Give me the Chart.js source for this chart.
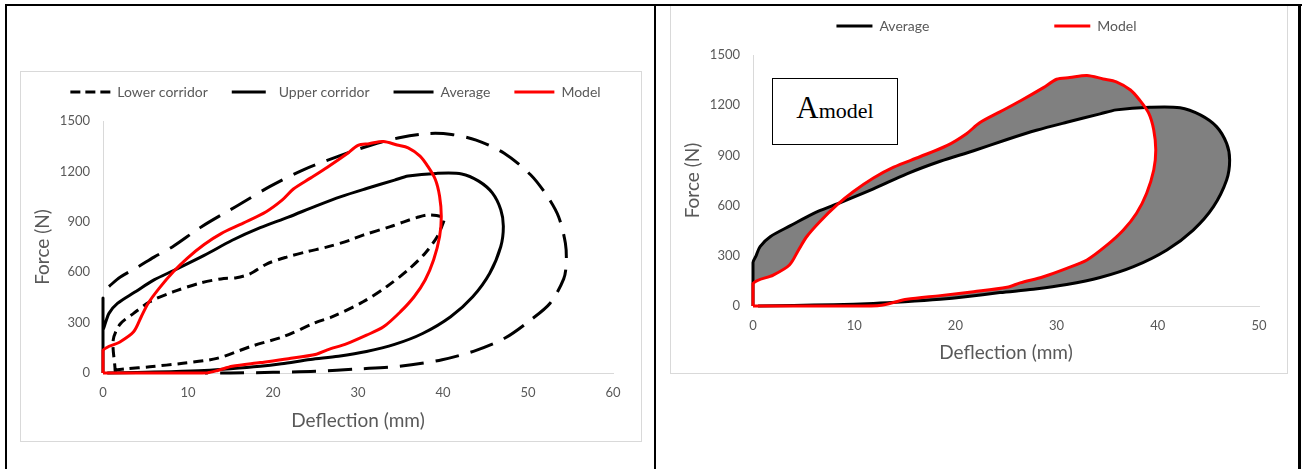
<!DOCTYPE html>
<html>
<head>
<meta charset="utf-8">
<script src="https://cdn.jsdelivr.net/npm/chart.js@4.4.1/dist/chart.umd.min.js"></script>
<style>
  html, body { margin: 0; padding: 0; background: #fff; }
  body { width: 1305px; height: 469px; position: relative; overflow: hidden; font-family: Lato, sans-serif; }
  .rule { position: absolute; background: #000; z-index: 5; }
  .frame { position: absolute; border: 1px solid #d9d9d9; }
  .frame canvas { display: block; }
  #areaLabel {
    position: absolute; left: 772px; top: 78px; width: 124px; height: 51px;
    padding-top: 14px; border: 1px solid #000; background: #fff; z-index: 3;
    font-family: "Liberation Serif", "Times New Roman", serif; color: #000;
    text-align: center; line-height: 30px; white-space: nowrap;
  }
  #areaLabel .big { font-size: 31px; }
  #areaLabel .sub { font-size: 22px; }
</style>
</head>
<body>
<div class="rule" style="left:5px; top:4px; width:1297px; height:2px;"></div>
<div class="rule" style="left:5px; top:4px; width:2px; height:465px;"></div>
<div class="rule" style="left:654px; top:4px; width:2px; height:465px;"></div>
<div class="rule" style="left:1298px; top:4px; width:3px; height:465px;"></div>

<div class="frame" style="left:20px; top:71px; width:620px; height:369px;">
  <canvas id="corridorChart" width="620" height="369"></canvas>
</div>
<div class="frame" style="left:670px; top:5px; width:616px; height:367px;">
  <canvas id="areaChart" width="616" height="367"></canvas>
</div>
<div id="areaLabel"><span class="big">A</span><span class="sub">model</span></div>

<script>
// deflection (mm) / force (N)
const lowerX = [1.5, 1.4, 1.2, 2.0, 3.6, 5.5, 8.3, 11.4, 14.2, 15.7, 17.3, 19.3, 21.6, 24.0, 26.5, 29.0, 30.6, 33.8, 35.4, 36.9, 38.4, 40.1, 40.0, 39.3, 37.9, 35.9, 33.4, 30.6, 27.0, 25.0, 21.2, 17.5, 13.4, 9.4, 5.5, 2.8, 0.6];
const lowerY = [0, 37, 196, 290, 355, 424, 484, 535, 563, 567, 590, 650, 690, 722, 752, 790, 821, 871, 900, 925, 941, 925, 891, 810, 713, 614, 515, 424, 335, 300, 216, 160, 87, 58, 37, 25, 15];

const upperX = [0.7, 2.0, 4.2, 6.0, 8.2, 11.6, 15.6, 19.6, 23.5, 27.5, 31.5, 35.0, 38.4, 41.0, 43.9, 47.2, 50.3, 52.3, 53.6, 54.4, 54.5, 54.2, 52.6, 50.3, 47.3, 43.9, 39.9, 34.9, 30.0, 25.0, 20.0, 15.0, 12.0];
const upperY = [515, 570, 634, 690, 752, 871, 990, 1109, 1208, 1287, 1356, 1402, 1426, 1420, 1386, 1308, 1180, 1050, 930, 772, 653, 560, 415, 315, 208, 135, 79, 40, 24, 10, 4, 0, 0];

const avgX = [0, 0, 0.3, 0.7, 1.7, 3.7, 6.0, 8.3, 11.9, 15.2, 18.5, 21.8, 25.1, 28.0, 31.0, 34.3, 35.9, 39.2, 42.2, 44.2, 45.8, 46.8, 47.1, 46.8, 45.5, 43.5, 40.9, 37.6, 34.3, 31.0, 27.7, 24.4, 21.0, 18.5, 15.0, 11.9, 8.0, 4.0, 0.5];
const avgY = [0, 260, 300, 355, 414, 480, 554, 610, 700, 790, 865, 928, 995, 1050, 1098, 1148, 1172, 1188, 1185, 1142, 1072, 972, 873, 753, 594, 454, 335, 235, 170, 128, 100, 80, 55, 40, 25, 15, 8, 3, 0];
const avgSpike = 445; // first peak at 0 mm, only on the corridor plot

const modelX = [0, 0, 2.0, 3.6, 4.5, 5.3, 6.6, 8.3, 9.9, 11.9, 13.9, 16.5, 19.2, 21.1, 22.4, 24.4, 26.4, 28.7, 30.0, 31.3, 33.0, 34.6, 35.9, 37.3, 38.2, 39.1, 39.6, 39.8, 39.6, 38.9, 37.9, 36.6, 35.0, 33.0, 31.0, 28.7, 26.4, 25.1, 21.8, 18.5, 15.2, 13.5, 12.3, 8.0, 0];
const modelY = [0, 134, 185, 245, 335, 414, 504, 604, 683, 765, 830, 892, 960, 1030, 1095, 1160, 1225, 1305, 1355, 1365, 1378, 1357, 1340, 1291, 1231, 1152, 1052, 932, 813, 674, 554, 454, 365, 275, 225, 175, 138, 112, 85, 62, 40, 15, 2, 0, 0];

const yTicks = [0, 300, 600, 900, 1200, 1500];

const gray = "#595959";
const tickFont = { family: "Lato", size: 13 };
const legendFont = { family: "Lato", size: 14 };
const titleFont = { family: "Lato", size: 19 };

const pts = (xs, ys) => xs.map((x, i) => ({ x: x, y: ys[i] }));

const lineSet = (label, data, color, dash, keyDash, order) => ({
  label: label,
  data: data,
  showLine: true,
  borderColor: color,
  backgroundColor: color,
  borderWidth: 3,
  borderDash: dash,
  keyDash: keyDash,
  pointRadius: 0,
  tension: 0.3,
  clip: false,
  order: order,
});

// legend row at y=20, plot starts at y=49, whatever the item padding is
const legendTweak = (pad, shift) => ({
  id: "legendTweak",
  beforeInit(chart) {
    const lg = chart.legend;
    const fit = lg.fit;
    lg.fit = function () { fit.call(this); this.height += 21.5 - pad; };
    const draw = lg.draw;
    lg.draw = function () {
      const t = this.top, l = this.left, r = this.right;
      this.top = t + 9.5 - pad;
      this.left = l + shift;
      this.right = r + shift;
      draw.call(this);
      this.top = t;
      this.left = l;
      this.right = r;
    };
  },
});

// grey area between Average and Model loops (even-odd fill of both paths)
const gapFill = {
  id: "gapFill",
  beforeDatasetsDraw(chart) {
    const ctx = chart.ctx;
    ctx.save();
    ctx.beginPath();
    chart.data.datasets.forEach((ds, i) => {
      const line = chart.getDatasetMeta(i).dataset;
      if (line.updateControlPoints) line.updateControlPoints(chart.chartArea, "x");
      line.path(ctx);
    });
    ctx.fillStyle = "#808080";
    ctx.fill("evenodd");
    ctx.restore();
  },
};

const makeOptions = (xMax, legendPadding, styleWidth, xHeight) => ({
  responsive: false,
  animation: false,
  layout: { padding: { left: 7, right: 28, top: 3.5, bottom: 6 } },
  plugins: {
    tooltip: { enabled: false },
    legend: {
      position: "top",
      labels: {
        usePointStyle: true,
        pointStyleWidth: styleWidth,
        padding: legendPadding,
        color: gray,
        font: legendFont,
        generateLabels: (chart) =>
          chart.data.datasets.map((ds, i) => ({
            text: ds.label,
            strokeStyle: ds.borderColor,
            fillStyle: ds.borderColor,
            lineWidth: 3,
            lineDash: ds.keyDash,
            pointStyle: "line",
            fontColor: gray,
            hidden: false,
            datasetIndex: i,
          })),
      },
    },
  },
  scales: {
    x: {
      type: "linear",
      min: 0,
      max: xMax,
      afterFit: (scale) => { scale.height = xHeight; },
      ticks: { stepSize: 10, color: gray, font: tickFont, padding: 12, callback: (v) => String(v) },
      grid: { display: false, drawTicks: false },
      border: { display: true, color: "#d9d9d9", width: 1 },
      title: { display: true, text: "Deflection (mm)", color: gray, font: titleFont, padding: { top: 4, bottom: 3 } },
    },
    y: {
      type: "linear",
      min: 0,
      max: 1500,
      afterBuildTicks: (scale) => { scale.ticks = yTicks.map((v) => ({ value: v })); },
      afterFit: (scale) => { scale.width = 75; },
      ticks: { color: gray, font: tickFont, padding: 13, callback: (v) => String(v) },
      grid: { display: false, drawTicks: false },
      border: { display: true, color: "#d9d9d9", width: 1 },
      title: { display: true, text: "Force (N)", color: gray, font: titleFont, padding: { top: 3, bottom: 4 } },
    },
  },
});

const leftAvg = [{ x: 0, y: 0 }, { x: 0, y: avgSpike }].concat(pts(avgX, avgY).slice(1));

new Chart(document.getElementById("corridorChart"), {
  type: "scatter",
  data: {
    datasets: [
      lineSet("Lower corridor", pts(lowerX, lowerY), "#000000", [10, 6], [10, 5], 0),
      lineSet("Upper corridor", pts(upperX, upperY), "#000000", [24, 12], [34, 6], 0),
      lineSet("Average", leftAvg, "#000000", [], [], 0),
      lineSet("Model", pts(modelX, modelY), "#ff0000", [], [], -1),
    ],
  },
  options: makeOptions(60, 24, 40, 62),
  plugins: [legendTweak(24, 15)],
});

new Chart(document.getElementById("areaChart"), {
  type: "scatter",
  data: {
    datasets: [
      lineSet("Average", pts(avgX, avgY), "#000000", [], [], 0),
      lineSet("Model", pts(modelX, modelY), "#ff0000", [], [], -1),
    ],
  },
  options: makeOptions(50, 125, 36, 61),
  plugins: [legendTweak(125, 18), gapFill],
});
</script>
</body>
</html>
